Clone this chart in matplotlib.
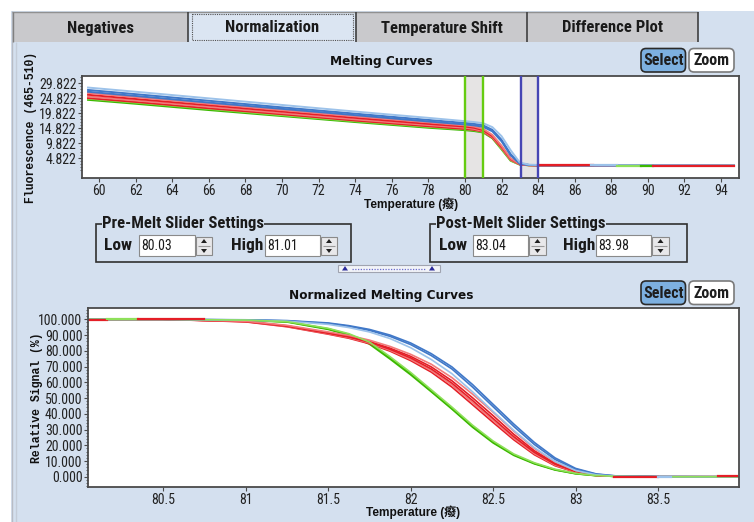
import matplotlib
matplotlib.use('Agg')
import matplotlib.pyplot as plt
from matplotlib.patches import Rectangle, FancyBboxPatch, Polygon
from matplotlib import font_manager

# ---------------- data ----------------
TAB_LABELS = ['Negatives', 'Normalization', 'Temperature Shift', 'Difference Plot']
TAB_EDGES = [12, 188, 356, 527, 698]
SELECTED_TAB = 1

PRE_LOW, PRE_HIGH = 80.03, 81.01
POST_LOW, POST_HIGH = 83.04, 83.98

TOP_XTICKS = [60, 62, 64, 66, 68, 70, 72, 74, 76, 78, 80, 82, 84, 86, 88, 90, 92, 94]
TOP_YTICKS = [4.822, 9.822, 14.822, 19.822, 24.822, 29.822]

TOP_T = [59.4, 62, 66, 70, 74, 78, 80, 80.5, 81, 81.5, 82, 82.5, 83, 83.5, 84, 88, 94.7]
TOP_LIGHTBLUE = [28.4, 27.0, 24.8, 22.6, 20.4, 18.3, 17.2, 16.9, 16.5, 15.2, 12.2, 7.5, 3.4, 2.7, 2.6, 2.5, 2.4]
TOP_BLUE_A = [27.6, 26.2, 24.0, 21.8, 19.7, 17.6, 16.6, 16.3, 15.8, 14.3, 11.0, 6.2, 3.1, 2.6, 2.5, 2.45, 2.35]
TOP_BLUE_B = [27.0, 25.6, 23.4, 21.3, 19.2, 17.1, 16.1, 15.8, 15.3, 13.8, 10.5, 5.8, 3.0, 2.6, 2.5, 2.45, 2.35]
TOP_RED_A = [26.6, 25.2, 23.0, 20.9, 18.8, 16.8, 15.8, 15.4, 14.6, 12.6, 9.0, 4.8, 2.9, 2.55, 2.5, 2.45, 2.3]
TOP_RED_B = [26.0, 24.6, 22.5, 20.4, 18.3, 16.3, 15.4, 15.0, 14.2, 12.2, 8.7, 4.6, 2.85, 2.55, 2.5, 2.45, 2.3]
TOP_RED_C = [25.4, 24.1, 22.0, 19.9, 17.8, 15.9, 15.0, 14.6, 13.9, 11.9, 8.5, 4.4, 2.8, 2.5, 2.45, 2.4, 2.3]
TOP_RED_D = [24.9, 23.6, 21.5, 19.5, 17.4, 15.5, 14.6, 14.3, 13.7, 11.7, 8.3, 4.3, 2.8, 2.5, 2.45, 2.4, 2.3]
TOP_GREEN_A = [24.3, 23.0, 20.9, 18.9, 16.9, 15.0, 14.2, 13.9, 13.4, 11.5, 7.8, 4.0, 2.7, 2.5, 2.45, 2.4, 2.35]
TOP_GREEN_B = [24.7, 23.4, 21.3, 19.2, 17.2, 15.3, 14.5, 14.2, 13.6, 11.7, 8.0, 4.1, 2.7, 2.5, 2.45, 2.4, 2.35]
TOP_TAIL = [(84.0, 87.0, 2.45, 'red'), (86.9, 88.3, 2.45, 'lightblue'), (88.3, 89.6, 2.4, 'lightgreen'),
            (89.6, 90.3, 2.35, 'green'), (90.3, 94.7, 2.3, 'red')]

NORM_XTICKS = [80.5, 81, 81.5, 82, 82.5, 83, 83.5]
NORM_XLABELS = ['80.5', '81', '81.5', '82', '82.5', '83', '83.5']
NORM_YTICKS = [0, 10, 20, 30, 40, 50, 60, 70, 80, 90, 100]

NORM_T = [80.05, 80.5, 81.0, 81.25, 81.5, 81.625, 81.75, 81.875, 82.0, 82.125, 82.25, 82.375,
          82.5, 82.625, 82.75, 82.875, 83.0, 83.125, 83.25, 83.5, 83.98]
NORM_BLUE_A = [100, 100, 99.6, 99.0, 97.4, 95.6, 93.0, 89.2, 84.0, 77.0, 68.5, 57.0, 44.5, 32.0, 20.5, 11.0, 4.8, 1.6, 0.4, 0.1, 0.0]
NORM_BLUE_B = [100, 100, 99.7, 99.2, 97.7, 96.0, 93.6, 90.0, 85.0, 78.2, 69.8, 58.6, 46.0, 33.5, 21.8, 12.0, 5.3, 1.8, 0.5, 0.1, 0.0]
NORM_LIGHTBLUE = [100, 100, 99.5, 98.8, 96.8, 94.8, 92.0, 87.8, 82.0, 74.5, 65.5, 54.0, 41.5, 29.5, 18.5, 9.8, 4.0, 1.2, 0.3, 0.0, 0.0]
NORM_RED_A = [100, 100, 98.8, 96.2, 92.0, 89.8, 86.8, 82.8, 77.8, 71.5, 63.0, 52.5, 41.0, 29.0, 18.0, 9.5, 4.0, 1.2, 0.3, 0.0, 0.0]
NORM_RED_B = [100, 100, 98.7, 95.9, 91.5, 89.2, 86.0, 81.7, 76.5, 69.8, 61.0, 50.2, 38.8, 27.0, 16.5, 8.6, 3.6, 1.1, 0.25, 0.0, 0.0]
NORM_RED_C = [100, 100, 98.6, 95.7, 91.2, 88.8, 85.5, 81.0, 75.5, 68.5, 59.5, 48.5, 37.0, 25.5, 15.5, 8.0, 3.3, 1.0, 0.2, 0.0, 0.0]
NORM_RED_D = [100, 100, 98.5, 95.5, 90.9, 88.4, 85.0, 80.4, 74.6, 67.5, 58.3, 47.2, 35.8, 24.5, 14.7, 7.5, 3.0, 0.9, 0.2, 0.0, 0.0]
NORM_RED_E = [100, 100, 98.4, 95.3, 90.6, 88.0, 84.5, 79.8, 73.8, 66.5, 57.0, 45.8, 34.5, 23.5, 14.0, 7.0, 2.8, 0.8, 0.2, 0.0, 0.0]
NORM_GREEN_A = [100, 100, 99.4, 98.5, 94.0, 90.5, 85.0, 75.5, 65.5, 54.5, 43.5, 32.0, 22.0, 14.0, 8.5, 4.5, 2.0, 0.7, 0.2, 0.0, 0.0]
NORM_GREEN_B = [100, 100, 99.3, 98.3, 93.6, 90.0, 84.3, 74.8, 64.8, 54.0, 43.0, 31.5, 21.5, 13.6, 8.2, 4.3, 1.9, 0.7, 0.2, 0.0, 0.0]
NORM_GREEN_C = [100, 100, 99.5, 98.6, 94.3, 90.9, 85.6, 76.3, 66.3, 55.3, 44.3, 32.8, 22.7, 14.5, 8.9, 4.8, 2.2, 0.8, 0.25, 0.0, 0.0]
NORM_MARKS = [(80.05, 80.16, 99.3, 'red'), (80.16, 80.35, 100.0, 'lightgreen'), (80.35, 80.75, 100.5, 'red'),
              (83.23, 83.5, -0.4, 'red'), (83.5, 83.58, -0.3, 'lightblue'), (83.86, 83.98, 0.7, 'red')]

# ---------------- style ----------------
COL = {'blue': '#4078c8', 'lightblue': '#9cc2ea', 'red': '#e41e26', 'pink': '#f27a7a',
       'green': '#3cb800', 'lightgreen': '#8ee05a'}
PANEL = '#d4e0ef'

avail = {f.name for f in font_manager.fontManager.ttflist}


def pick(cands, default):
    for c in cands:
        if c in avail:
            return c
    return default


NARROW = pick(['Liberation Sans Narrow', 'Arial Narrow', 'Roboto Condensed', 'Archivo Narrow',
               'PT Sans Narrow', 'Asap Condensed'], 'Liberation Sans')
MONO = pick(['Liberation Mono', 'DejaVu Sans Mono'], 'DejaVu Sans Mono')
SANS = 'Liberation Sans'
CJK = [SANS, 'Noto Sans CJK SC', 'DejaVu Sans']

W, H = 754, 522
fig = plt.figure(figsize=(W / 100, H / 100), dpi=100)
fig.patch.set_facecolor(PANEL)

bg = fig.add_axes([0, 0, 1, 1], zorder=-10)
bg.set_xlim(0, W)
bg.set_ylim(H, 0)
bg.axis('off')


def R(x0, y0, x1, y1, fc='none', ec='none', lw=1.0, ls='-', z=1):
    bg.add_patch(Rectangle((x0, y0), x1 - x0, y1 - y0, facecolor=fc, edgecolor=ec,
                           linewidth=lw, linestyle=ls, zorder=z))


def L(xs, ys, c='#606060', lw=1.0, ls='-', z=2):
    bg.plot(xs, ys, color=c, lw=lw, ls=ls, zorder=z, solid_capstyle='butt')


# white margins
R(0, 0, W, 11, fc='white')
R(0, 0, 11, H, fc='white')
L([11.5, 11.5], [11, H], c='#b8bcc4', lw=1)
L([15.5, 15.5], [42, H], c='#c4ccd8', lw=1)

# tabs
L([12, 698], [11.5, 11.5], c='#909090', lw=1)
for i, lab in enumerate(TAB_LABELS):
    x0, x1 = TAB_EDGES[i], TAB_EDGES[i + 1]
    if i == SELECTED_TAB:
        R(x0 + 2, 12, x1 - 1, 42, fc='#dbe5f2', ec='none')
        R(x0 + 4, 14, x1 - 3, 40, fc='none', ec='#505050', lw=0.8, ls=(0, (1, 1)))
    else:
        R(x0, 12, x1, 42, fc='#c9c9cc', ec='none')
    L([x1 - 0.5, x1 - 0.5], [12, 42], c='#404040', lw=1.2)
    bg.text((x0 + x1) / 2, 28, lab, ha='center', va='center', fontsize=12,
            fontweight='bold', family=NARROW, color='#1a1a1a')
L([12.5, 12.5], [12, 42], c='#808080', lw=1)


def buttons(ytop):
    b1 = FancyBboxPatch((641, ytop), 44.5, 23.5, boxstyle='round,pad=0,rounding_size=5',
                        facecolor='#7db0e0', edgecolor='#2a2a2a', linewidth=1.2, zorder=3)
    b2 = FancyBboxPatch((689, ytop), 45, 23.5, boxstyle='round,pad=0,rounding_size=5',
                        facecolor='white', edgecolor='#7a7a7a', linewidth=1.2, zorder=3)
    bg.add_patch(b1)
    bg.add_patch(b2)
    bg.text(663.2, ytop + 12, 'Select', ha='center', va='center', fontsize=11.5,
            fontweight='bold', family=NARROW, color='#1e1e1e', zorder=4)
    bg.text(711.5, ytop + 12, 'Zoom', ha='center', va='center', fontsize=11.5,
            fontweight='bold', family=NARROW, color='#1e1e1e', zorder=4)


buttons(48.5)
buttons(281)

# titles and labels
bg.text(381, 62, 'Melting Curves', ha='center', va='center', fontsize=8.7,
        fontweight='bold', family='DejaVu Sans', color='#111111')
bg.text(381, 295, 'Normalized Melting Curves', ha='center', va='center', fontsize=8.7,
        fontweight='bold', family='DejaVu Sans', color='#111111')
bg.text(31, 127, 'Fluorescence (465-510)', ha='center', va='center', rotation=90,
        fontsize=8.3, fontweight='bold', family=MONO, color='#111111')
bg.text(37, 398, 'Relative Signal (%)', ha='center', va='center', rotation=90,
        fontsize=8.3, fontweight='bold', family=MONO, color='#111111')
bg.text(411, 204, 'Temperature (癈)', ha='center', va='center', fontsize=8.6,
        fontweight='bold', family=CJK, color='#111111')
bg.text(413, 512, 'Temperature (癈)', ha='center', va='center', fontsize=8.6,
        fontweight='bold', family=CJK, color='#111111')


# slider setting group boxes
def spinner(x0, x1, y0, y1):
    R(x0, y0, x1, y1, fc='#e8e8ea', ec='#8a8a8a', lw=0.8, z=3)
    ym = (y0 + y1) / 2
    L([x0 + 2, x1 - 2], [ym, ym], c='#9a9a9a', lw=0.8, z=4)
    xm = (x0 + x1) / 2
    bg.add_patch(Polygon([[xm - 3, ym - 3], [xm + 3, ym - 3], [xm, ym - 7]], closed=True,
                         fc='#202020', ec='none', zorder=5))
    bg.add_patch(Polygon([[xm - 3, ym + 3], [xm + 3, ym + 3], [xm, ym + 7]], closed=True,
                         fc='#202020', ec='none', zorder=5))


def group(x0, x1, title, lowx, low, highx, high, f1, s1, f2, s2):
    R(x0, 224, x1, 262, fc='none', ec='#303030', lw=1.2, z=2)
    t = bg.text(x0 + 6, 223.5, title, ha='left', va='center', fontsize=12, fontweight='bold',
                family=NARROW, color='#1a1a1a', zorder=4)
    t.set_bbox(dict(facecolor=PANEL, edgecolor='none', pad=0.3))
    bg.text(lowx, 245.5, 'Low', ha='left', va='center', fontsize=12.5, fontweight='bold',
            family=NARROW, color='#1a1a1a')
    bg.text(highx, 245.5, 'High', ha='left', va='center', fontsize=12.5, fontweight='bold',
            family=NARROW, color='#1a1a1a')
    R(f1[0], 235, f1[1], 256, fc='white', ec='#8a8a8a', lw=0.8, z=3)
    R(f2[0], 235, f2[1], 256, fc='white', ec='#8a8a8a', lw=0.8, z=3)
    bg.text(f1[0] + 2, 245.5, '%.2f' % low, ha='left', va='center', fontsize=10,
            family=NARROW, color='#1a1a1a', zorder=4)
    bg.text(f2[0] + 2, 245.5, '%.2f' % high, ha='left', va='center', fontsize=10,
            family=NARROW, color='#1a1a1a', zorder=4)
    spinner(s1[0], s1[1], 237, 255)
    spinner(s2[0], s2[1], 237, 255)


group(96, 351, 'Pre-Melt Slider Settings', 104, PRE_LOW, 231, PRE_HIGH,
      (139, 195), (196, 212), (265, 320), (321, 337))
group(430, 687, 'Post-Melt Slider Settings', 439, POST_LOW, 563, POST_HIGH,
      (473, 528), (529, 546), (596, 651), (652, 669))

# splitter bar
R(338, 265, 440, 272, fc='#f2f4f8', ec='#a0a4b0', lw=0.8, z=3)
L([352, 426], [268.5, 268.5], c='#6a6ad0', lw=0.9, ls=(0, (1, 1.2)), z=4)
for xc in (345, 432):
    bg.add_patch(Polygon([[xc - 3, 270.5], [xc + 3, 270.5], [xc, 266]], closed=True,
                         fc='#2a2a9a', ec='none', zorder=5))


def style_axes(ax):
    for s in ax.spines.values():
        s.set_color('#4a4a4a')
        s.set_linewidth(1.3)
    ax.set_facecolor('white')
    ax.tick_params(which='major', direction='out', length=3, width=0.8, color='#4a4a4a',
                   labelsize=10, pad=1.0, labelcolor='#222222')
    ax.tick_params(which='minor', direction='out', length=1.8, width=0.6, color='#4a4a4a')
    for lbl in ax.get_xticklabels() + ax.get_yticklabels():
        lbl.set_family(NARROW)


# ---------------- top plot ----------------
ax1 = fig.add_axes([82 / W, 1 - 178 / H, (739 - 82) / W, (178 - 76) / H])
ax1.set_xlim(59.07, 94.98)
ax1.set_ylim(-1.75, 32.25)
ax1.axvspan(PRE_LOW, PRE_HIGH, color='#e6e4e4', zorder=0.5, lw=0)
ax1.axvspan(POST_LOW, POST_HIGH, color='#e6e4e4', zorder=0.5, lw=0)

top_curves = [(TOP_GREEN_A, COL['green']), (TOP_GREEN_B, COL['lightgreen']),
              (TOP_RED_D, COL['red']), (TOP_RED_C, COL['pink']), (TOP_RED_B, COL['red']),
              (TOP_RED_A, COL['pink']), (TOP_BLUE_B, COL['blue']), (TOP_BLUE_A, COL['blue']),
              (TOP_LIGHTBLUE, COL['lightblue'])]
for vals, c in top_curves:
    ax1.plot(TOP_T, vals, color=c, lw=1.4, zorder=2)
for x0, x1, y, cname in TOP_TAIL:
    ax1.plot([x0, x1], [y, y], color=COL[cname], lw=1.6, zorder=2.1)
for xv, c in [(PRE_LOW, '#66cc11'), (PRE_HIGH, '#66cc11'), (POST_LOW, '#4646b4'), (POST_HIGH, '#4646b4')]:
    ax1.axvline(xv, color=c, lw=1.7, zorder=3)

ax1.set_xticks(TOP_XTICKS)
ax1.set_xticklabels([str(v) for v in TOP_XTICKS])
ax1.set_yticks(TOP_YTICKS)
ax1.set_yticklabels(['%.3f' % v for v in TOP_YTICKS])
ax1.set_yticks([v + k for v in [-0.178] + TOP_YTICKS for k in range(1, 5) if v + k < 32], minor=True)
style_axes(ax1)

# ---------------- normalized plot ----------------
ax2 = fig.add_axes([88 / W, 1 - 487 / H, (739 - 88) / W, (487 - 308) / H])
ax2.set_xlim(80.045, 83.99)
ax2.set_ylim(-6.5, 107.2)

norm_curves = [(NORM_GREEN_A, COL['green']), (NORM_GREEN_B, COL['green']),
               (NORM_RED_E, COL['red']), (NORM_RED_D, COL['pink']), (NORM_RED_C, COL['red']),
               (NORM_RED_B, COL['red']), (NORM_RED_A, COL['pink']),
               (NORM_BLUE_B, COL['blue']), (NORM_BLUE_A, COL['blue']),
               (NORM_LIGHTBLUE, COL['lightblue']), (NORM_GREEN_C, COL['lightgreen'])]
for vals, c in norm_curves:
    ax2.plot(NORM_T, vals, color=c, lw=1.2, zorder=2)
for x0, x1, y, cname in NORM_MARKS:
    ax2.plot([x0, x1], [y, y], color=COL[cname], lw=1.6, zorder=2.2)

ax2.set_xticks(NORM_XTICKS)
ax2.set_xticklabels(NORM_XLABELS)
ax2.set_yticks(NORM_YTICKS)
ax2.set_yticklabels(['%.3f' % v for v in NORM_YTICKS])
ax2.set_yticks([v for v in range(-6, 108, 2) if v % 10 != 0], minor=True)
style_axes(ax2)

fig.savefig('out.png', dpi=100, facecolor=fig.get_facecolor())
